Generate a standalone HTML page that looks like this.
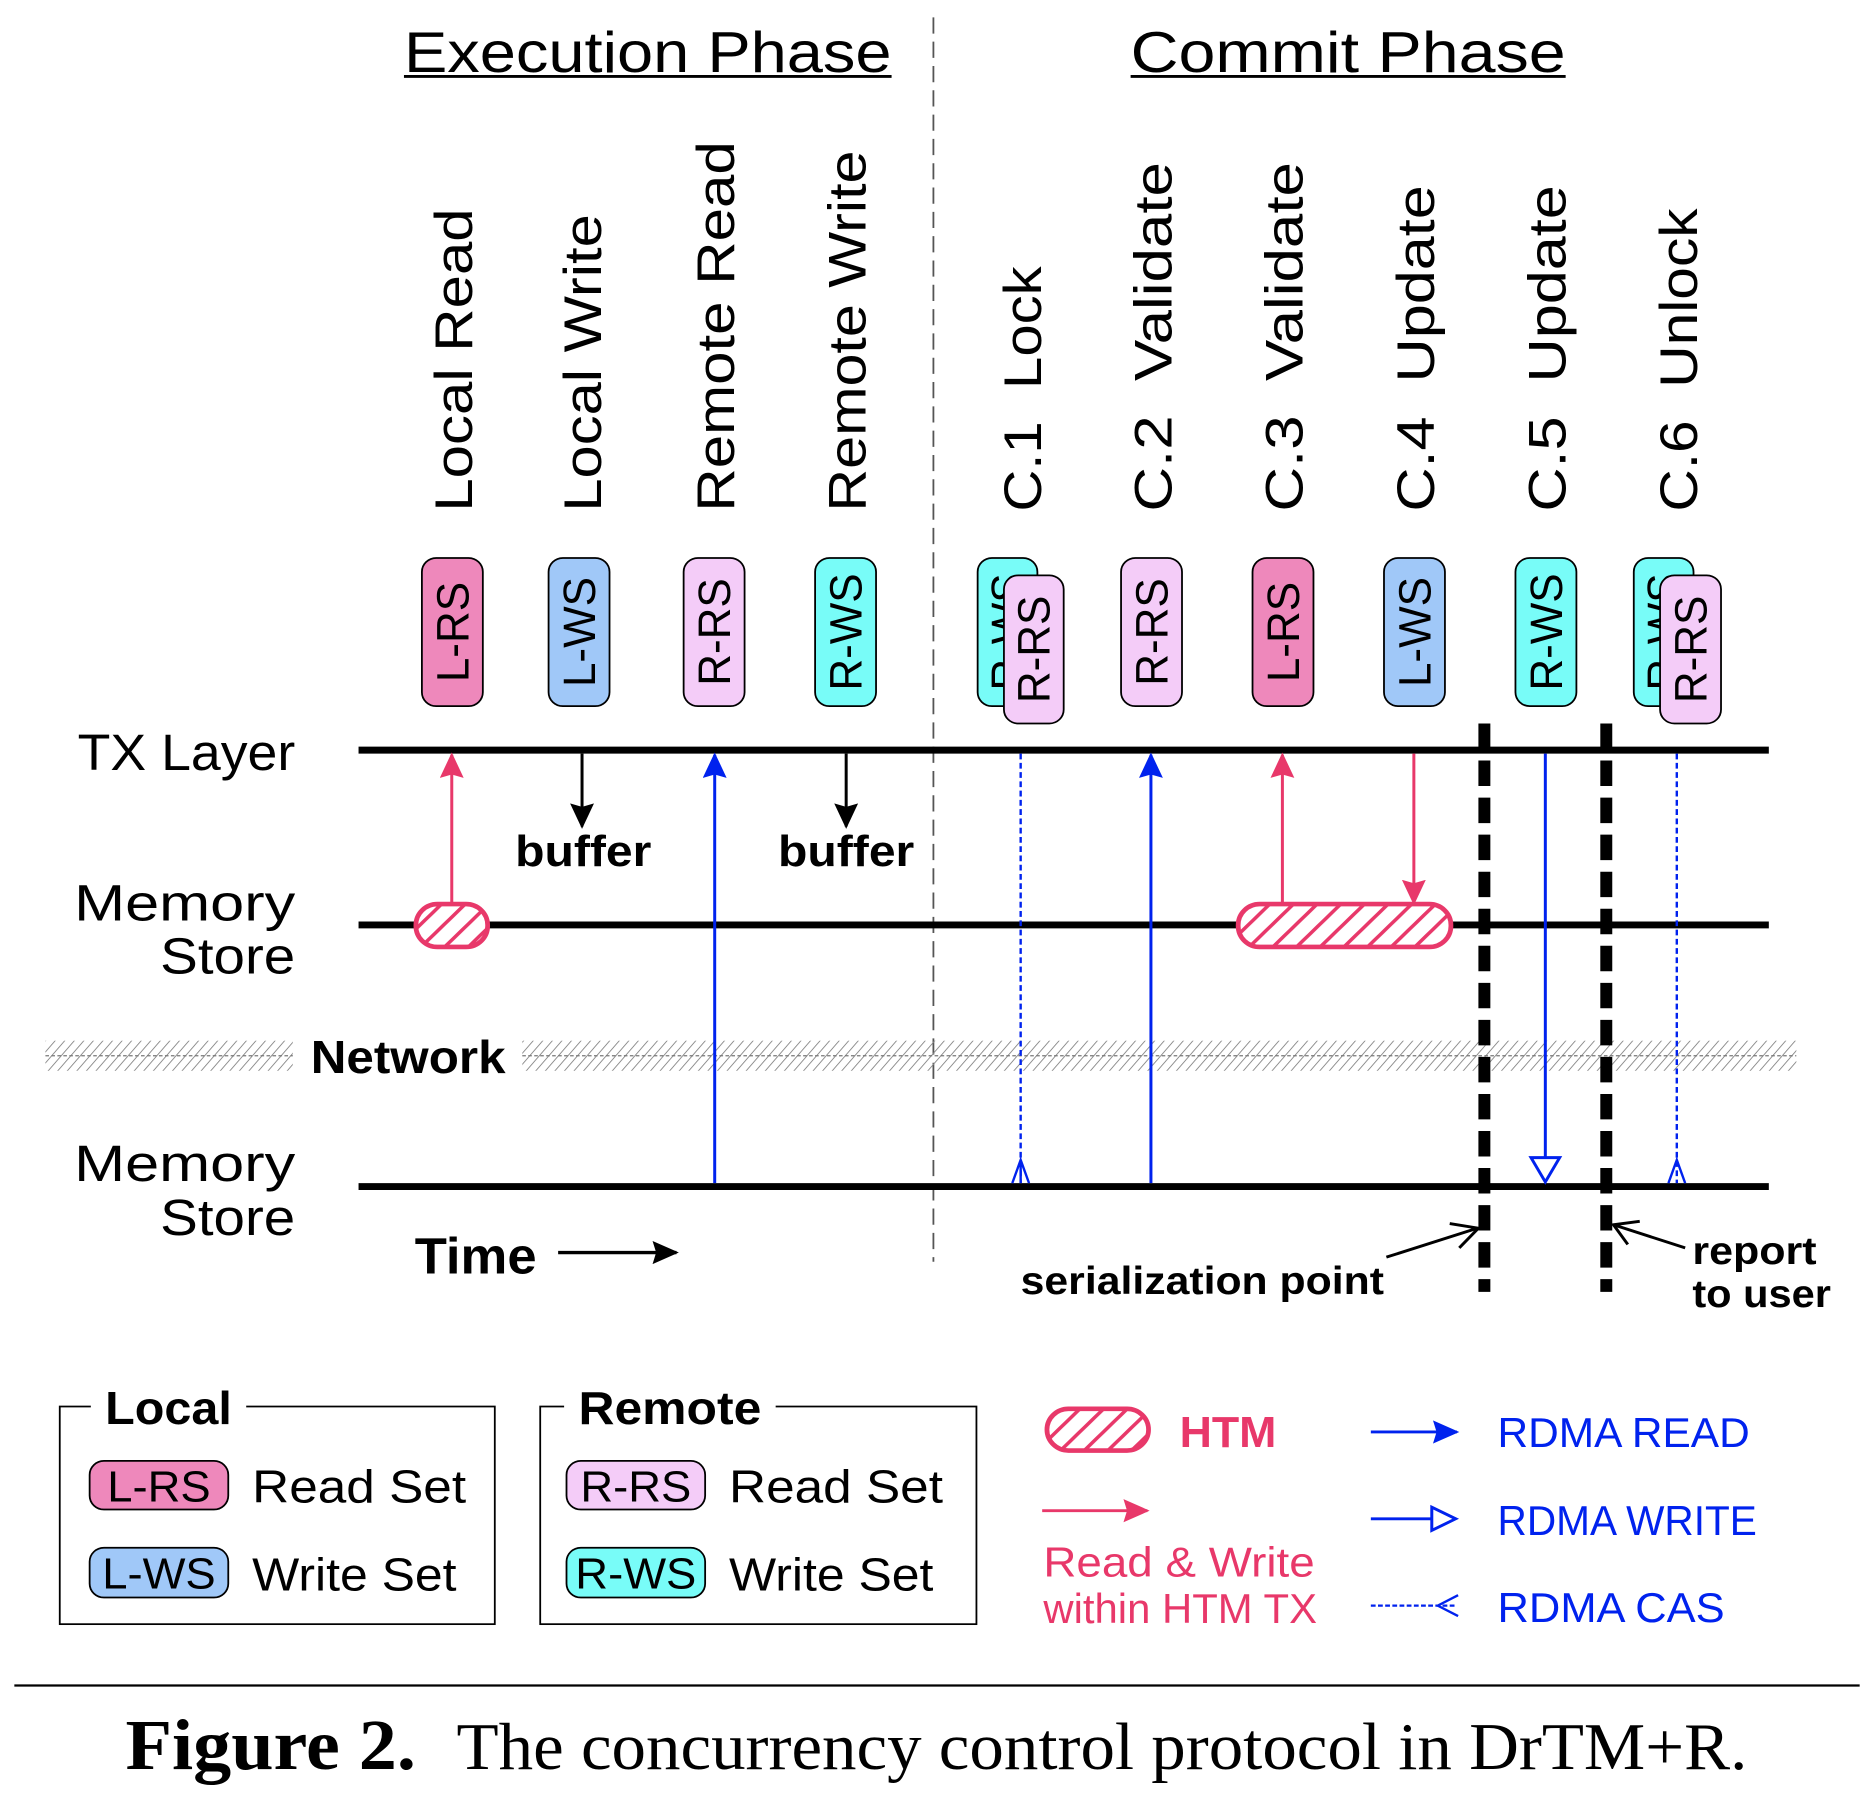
<!DOCTYPE html>
<html><head><meta charset="utf-8"><style>
html,body{margin:0;padding:0;background:#fff}
svg{display:block}
</style></head><body>
<svg width="1874" height="1814" viewBox="0 0 1568 1567" preserveAspectRatio="none" xmlns="http://www.w3.org/2000/svg" font-family="'Liberation Sans', 'DejaVu Sans', sans-serif">
<defs>
<pattern id="hp" width="14" height="14" patternUnits="userSpaceOnUse" patternTransform="rotate(45)">
<rect width="14" height="14" fill="#fff"/><rect x="0" y="0" width="3" height="14" fill="#e8386a"/>
</pattern>
<pattern id="nh" width="8" height="28" patternUnits="userSpaceOnUse" patternTransform="skewX(-40)">
<rect x="0" y="0" width="1" height="28" fill="#888"/>
</pattern>
<marker id="ab" markerWidth="22" markerHeight="20" refX="20" refY="10" orient="auto" markerUnits="userSpaceOnUse"><path d="M0,0 L22,10 L0,20 L3,10 Z" fill="#0022ee"/></marker>
<marker id="ap" markerWidth="22" markerHeight="20" refX="20" refY="10" orient="auto" markerUnits="userSpaceOnUse"><path d="M0,0 L22,10 L0,20 L3,10 Z" fill="#e8386a"/></marker>
<marker id="ak" markerWidth="22" markerHeight="20" refX="20" refY="10" orient="auto" markerUnits="userSpaceOnUse"><path d="M0,0 L22,10 L0,20 L3,10 Z" fill="#000"/></marker>
</defs>

<text x="338" y="62" font-size="50" textLength="408" lengthAdjust="spacingAndGlyphs">Execution Phase</text>
<line x1="338" y1="66" x2="746" y2="66" stroke="#000" stroke-width="2.5"/>
<text x="946" y="62" font-size="50" textLength="364" lengthAdjust="spacingAndGlyphs">Commit Phase</text>
<line x1="946" y1="66" x2="1310" y2="66" stroke="#000" stroke-width="2.5"/>
<line x1="781" y1="15" x2="781" y2="1090" stroke="#555" stroke-width="1.5" stroke-dasharray="14,7"/>

<g font-size="44">
<text transform="translate(395,442) rotate(-90)" textLength="262" lengthAdjust="spacingAndGlyphs">Local Read</text>
<text transform="translate(503,442) rotate(-90)" textLength="257" lengthAdjust="spacingAndGlyphs">Local Write</text>
<text transform="translate(614,442) rotate(-90)" textLength="320" lengthAdjust="spacingAndGlyphs">Remote Read</text>
<text transform="translate(724,442) rotate(-90)" textLength="312" lengthAdjust="spacingAndGlyphs">Remote Write</text>
<text transform="translate(871,442) rotate(-90)" xml:space="preserve" textLength="212" lengthAdjust="spacingAndGlyphs">C.1  Lock</text>
<text transform="translate(980,442) rotate(-90)" xml:space="preserve" textLength="302" lengthAdjust="spacingAndGlyphs">C.2  Validate</text>
<text transform="translate(1090,442) rotate(-90)" xml:space="preserve" textLength="302" lengthAdjust="spacingAndGlyphs">C.3  Validate</text>
<text transform="translate(1200,442) rotate(-90)" xml:space="preserve" textLength="282" lengthAdjust="spacingAndGlyphs">C.4  Update</text>
<text transform="translate(1310,442) rotate(-90)" xml:space="preserve" textLength="282" lengthAdjust="spacingAndGlyphs">C.5  Update</text>
<text transform="translate(1420,442) rotate(-90)" xml:space="preserve" textLength="262" lengthAdjust="spacingAndGlyphs">C.6  Unlock</text>
</g>

<g stroke="#000" stroke-width="1.5" font-size="38">
<rect x="353" y="482" width="51" height="128" rx="12" fill="#ee88bb"/>
<text transform="translate(392,546) rotate(-90)" text-anchor="middle" stroke="none">L-RS</text>
<rect x="459" y="482" width="51" height="128" rx="12" fill="#a0c8f8"/>
<text transform="translate(498,546) rotate(-90)" text-anchor="middle" stroke="none">L-WS</text>
<rect x="572" y="482" width="51" height="128" rx="12" fill="#f4ccf8"/>
<text transform="translate(611,546) rotate(-90)" text-anchor="middle" stroke="none">R-RS</text>
<rect x="682" y="482" width="51" height="128" rx="12" fill="#78fcf8"/>
<text transform="translate(721,546) rotate(-90)" text-anchor="middle" stroke="none">R-WS</text>

<rect x="818" y="482" width="50" height="128" rx="12" fill="#78fcf8"/>
<text transform="translate(856,546) rotate(-90)" text-anchor="middle" stroke="none">R-WS</text>
<rect x="840" y="497" width="50" height="128" rx="12" fill="#f4ccf8"/>
<text transform="translate(878,561) rotate(-90)" text-anchor="middle" stroke="none">R-RS</text>

<rect x="938" y="482" width="51" height="128" rx="12" fill="#f4ccf8"/>
<text transform="translate(977,546) rotate(-90)" text-anchor="middle" stroke="none">R-RS</text>
<rect x="1048" y="482" width="51" height="128" rx="12" fill="#ee88bb"/>
<text transform="translate(1087,546) rotate(-90)" text-anchor="middle" stroke="none">L-RS</text>
<rect x="1158" y="482" width="51" height="128" rx="12" fill="#a0c8f8"/>
<text transform="translate(1197,546) rotate(-90)" text-anchor="middle" stroke="none">L-WS</text>
<rect x="1268" y="482" width="51" height="128" rx="12" fill="#78fcf8"/>
<text transform="translate(1307,546) rotate(-90)" text-anchor="middle" stroke="none">R-WS</text>

<rect x="1367" y="482" width="50" height="128" rx="12" fill="#78fcf8"/>
<text transform="translate(1405,546) rotate(-90)" text-anchor="middle" stroke="none">R-WS</text>
<rect x="1389" y="497" width="51" height="128" rx="12" fill="#f4ccf8"/>
<text transform="translate(1428,561) rotate(-90)" text-anchor="middle" stroke="none">R-RS</text>
</g>

<g font-size="44">
<text x="65" y="665" textLength="182" lengthAdjust="spacingAndGlyphs">TX Layer</text>
<text x="62" y="795" textLength="185" lengthAdjust="spacingAndGlyphs">Memory</text>
<text x="134" y="841" textLength="113" lengthAdjust="spacingAndGlyphs">Store</text>
<text x="62" y="1020" textLength="185" lengthAdjust="spacingAndGlyphs">Memory</text>
<text x="134" y="1067" textLength="113" lengthAdjust="spacingAndGlyphs">Store</text>
</g>

<rect x="38" y="899" width="207" height="26" fill="url(#nh)"/>
<rect x="437" y="899" width="1066" height="26" fill="url(#nh)"/>
<line x1="38" y1="912" x2="245" y2="912" stroke="#777" stroke-width="1" stroke-dasharray="3,2"/>
<line x1="437" y1="912" x2="1503" y2="912" stroke="#777" stroke-width="1" stroke-dasharray="3,2"/>
<text x="260" y="927" font-size="40" font-weight="bold" textLength="163" lengthAdjust="spacingAndGlyphs">Network</text>

<line x1="300" y1="648" x2="1480" y2="648" stroke="#000" stroke-width="6"/>
<line x1="300" y1="799" x2="1480" y2="799" stroke="#000" stroke-width="6"/>
<line x1="300" y1="1025" x2="1480" y2="1025" stroke="#000" stroke-width="6"/>

<rect x="348" y="781" width="60" height="37" rx="18" fill="url(#hp)" stroke="#e8386a" stroke-width="4"/>
<rect x="1036" y="781" width="178" height="37" rx="18" fill="url(#hp)" stroke="#e8386a" stroke-width="4"/>

<line x1="378" y1="780" x2="378" y2="652" stroke="#e8386a" stroke-width="2.5" marker-end="url(#ap)"/>
<line x1="487" y1="651" x2="487" y2="714" stroke="#000" stroke-width="2.5" marker-end="url(#ak)"/>
<line x1="708" y1="651" x2="708" y2="714" stroke="#000" stroke-width="2.5" marker-end="url(#ak)"/>
<text x="431" y="748" font-size="38" font-weight="bold" textLength="114" lengthAdjust="spacingAndGlyphs">buffer</text>
<text x="651" y="748" font-size="38" font-weight="bold" textLength="114" lengthAdjust="spacingAndGlyphs">buffer</text>
<line x1="598" y1="1022" x2="598" y2="652" stroke="#0022ee" stroke-width="2.5" marker-end="url(#ab)"/>
<line x1="963" y1="1022" x2="963" y2="652" stroke="#0022ee" stroke-width="2.5" marker-end="url(#ab)"/>
<line x1="1073" y1="780" x2="1073" y2="652" stroke="#e8386a" stroke-width="2.5" marker-end="url(#ap)"/>
<line x1="1183" y1="651" x2="1183" y2="780" stroke="#e8386a" stroke-width="2.5" marker-end="url(#ap)"/>
<line x1="854" y1="651" x2="854" y2="1022" stroke="#0022ee" stroke-width="2" stroke-dasharray="5,3"/>
<path d="M847,1022 L854,1002 L861,1022 M854,1002 L854,1022" stroke="#0022ee" stroke-width="2" fill="none"/>
<line x1="1403" y1="651" x2="1403" y2="1022" stroke="#0022ee" stroke-width="2" stroke-dasharray="5,3"/>
<path d="M1396,1022 L1403,1002 L1410,1022" stroke="#0022ee" stroke-width="2" fill="none"/>
<line x1="1293" y1="651" x2="1293" y2="1000" stroke="#0022ee" stroke-width="2.5"/>
<path d="M1281,1000 L1305,1000 L1293,1021 Z" stroke="#0022ee" stroke-width="2.5" fill="#fff"/>

<line x1="1242" y1="625" x2="1242" y2="1116" stroke="#000" stroke-width="10" stroke-dasharray="22,10"/>
<line x1="1344" y1="625" x2="1344" y2="1116" stroke="#000" stroke-width="10" stroke-dasharray="22,10"/>

<text x="347" y="1100" font-size="44" font-weight="bold" textLength="102" lengthAdjust="spacingAndGlyphs">Time</text>
<line x1="467" y1="1082" x2="566" y2="1082" stroke="#000" stroke-width="3" marker-end="url(#ak)"/>

<text x="854" y="1118" font-size="34" font-weight="bold" textLength="304" lengthAdjust="spacingAndGlyphs">serialization point</text>
<line x1="1160" y1="1086" x2="1236" y2="1061" stroke="#000" stroke-width="2.5"/>
<path d="M1213,1057 L1237,1061 L1221,1078" stroke="#000" stroke-width="2.5" fill="none"/>
<text x="1416" y="1092" font-size="34" font-weight="bold" textLength="104" lengthAdjust="spacingAndGlyphs">report</text>
<text x="1416" y="1129" font-size="34" font-weight="bold" textLength="116" lengthAdjust="spacingAndGlyphs">to user</text>
<line x1="1410" y1="1078" x2="1350" y2="1058" stroke="#000" stroke-width="2.5"/>
<path d="M1372,1055 L1350,1058 L1362,1075" stroke="#000" stroke-width="2.5" fill="none"/>

<rect x="50" y="1215" width="364" height="188" fill="none" stroke="#000" stroke-width="1.5"/>
<rect x="76" y="1195" width="130" height="40" fill="#fff"/>
<text x="88" y="1230" font-size="40" font-weight="bold" textLength="106" lengthAdjust="spacingAndGlyphs">Local</text>
<rect x="452" y="1215" width="365" height="188" fill="none" stroke="#000" stroke-width="1.5"/>
<rect x="472" y="1195" width="177" height="40" fill="#fff"/>
<text x="484" y="1230" font-size="40" font-weight="bold" textLength="153" lengthAdjust="spacingAndGlyphs">Remote</text>

<g stroke="#000" stroke-width="1.5">
<rect x="75" y="1262" width="116" height="42" rx="12" fill="#ee88bb"/>
<rect x="75" y="1337" width="116" height="43" rx="12" fill="#a0c8f8"/>
<rect x="474" y="1262" width="116" height="42" rx="12" fill="#f4ccf8"/>
<rect x="474" y="1337" width="116" height="43" rx="12" fill="#78fcf8"/>
</g>
<g font-size="38" text-anchor="middle">
<text x="133" y="1297">L-RS</text>
<text x="133" y="1372">L-WS</text>
<text x="532" y="1297">R-RS</text>
<text x="532" y="1372">R-WS</text>
</g>
<g font-size="40">
<text x="211" y="1298" textLength="179" lengthAdjust="spacingAndGlyphs">Read Set</text>
<text x="211" y="1374" textLength="171" lengthAdjust="spacingAndGlyphs">Write Set</text>
<text x="610" y="1298" textLength="179" lengthAdjust="spacingAndGlyphs">Read Set</text>
<text x="610" y="1374" textLength="171" lengthAdjust="spacingAndGlyphs">Write Set</text>
</g>

<rect x="876" y="1217" width="85" height="36" rx="18" fill="url(#hp)" stroke="#e8386a" stroke-width="4"/>
<text x="987" y="1250" font-size="38" font-weight="bold" fill="#e8386a" textLength="81" lengthAdjust="spacingAndGlyphs">HTM</text>
<line x1="872" y1="1305" x2="960" y2="1305" stroke="#e8386a" stroke-width="2.5" marker-end="url(#ap)"/>
<text x="873" y="1362" font-size="36" fill="#e8386a" textLength="227" lengthAdjust="spacingAndGlyphs">Read &amp; Write</text>
<text x="873" y="1402" font-size="36" fill="#e8386a" textLength="229" lengthAdjust="spacingAndGlyphs">within HTM TX</text>

<line x1="1147" y1="1237" x2="1219" y2="1237" stroke="#0022ee" stroke-width="2.5" marker-end="url(#ab)"/>
<line x1="1147" y1="1312" x2="1198" y2="1312" stroke="#0022ee" stroke-width="2.5"/>
<path d="M1198,1302 L1218,1312 L1198,1322 Z" fill="#fff" stroke="#0022ee" stroke-width="2.5"/>
<line x1="1147" y1="1387" x2="1218" y2="1387" stroke="#0022ee" stroke-width="2" stroke-dasharray="4,2"/>
<path d="M1220,1378 L1203,1387 L1220,1396" fill="none" stroke="#0022ee" stroke-width="2"/>
<g font-size="36" fill="#0022ee">
<text x="1253" y="1250" textLength="211" lengthAdjust="spacingAndGlyphs">RDMA READ</text>
<text x="1253" y="1326" textLength="217" lengthAdjust="spacingAndGlyphs">RDMA WRITE</text>
<text x="1253" y="1401" textLength="190" lengthAdjust="spacingAndGlyphs">RDMA CAS</text>
</g>

<line x1="12" y1="1456" x2="1556" y2="1456" stroke="#000" stroke-width="2"/>
<text x="105" y="1528" font-family="'Liberation Serif', serif" font-size="62" font-weight="bold" textLength="243" lengthAdjust="spacingAndGlyphs">Figure 2.</text>
<text x="382" y="1528" font-family="'Liberation Serif', serif" font-size="58" textLength="1080" lengthAdjust="spacingAndGlyphs">The concurrency control protocol in DrTM+R.</text>
</svg>
</body></html>
